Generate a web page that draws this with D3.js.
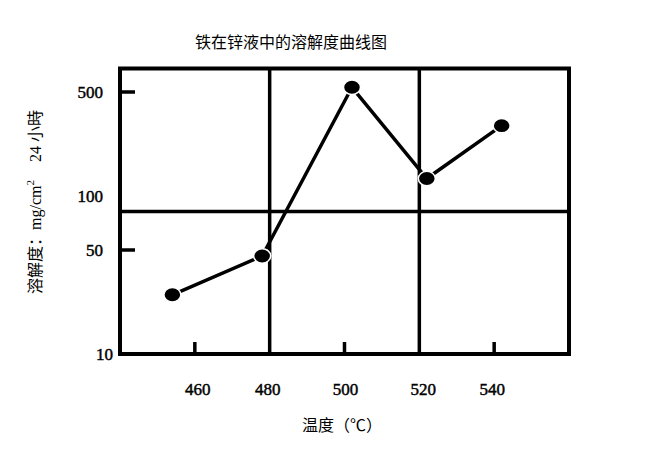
<!DOCTYPE html>
<html><head><meta charset="utf-8">
<script src="https://cdn.jsdelivr.net/npm/d3@7"></script>
<style>body{margin:0;background:#fff}svg{display:block}</style>
</head><body>
<svg id="c" width="653" height="458"></svg>
<script>
// ---- data ----
const temps = [454, 478, 502, 522, 542];
const solubility = [25, 45.6, 538, 131, 297];
const xTickValues = [460, 480, 500, 520, 540];
const xTickMarks = [460, 500, 540];
const xGridValues = [480, 520];
const yTickValues = [10, 50, 100, 500];
const yTickMarks = [50, 500];
const yGridValues = [82];
const title = "铁在锌液中的溶解度曲线图";
const xTitle = "温度（℃）";

// ---- layout ----
const W = 653, H = 458;
const L = 120, R = 569, T = 68.5, B = 354;
const svg = d3.select("#c");
svg.append("rect").attr("width", W).attr("height", H).attr("fill", "#fff");

const x = d3.scaleLinear().domain([440, 560]).range([L, R]);
const y = d3.scaleLog().domain([10, 50, 100, 500]).range([B, 250, 196, 92]);

const serif = "'Liberation Serif','Noto Sans CJK SC',serif";

// title
svg.append("text").attr("x", 291).attr("y", 48).attr("text-anchor", "middle")
  .attr("font-family", "'Noto Sans CJK SC'").attr("font-size", 16).attr("fill", "#000")
  .text(title);

// gridlines
const g = svg.append("g");
g.selectAll("line.vg").data(xGridValues).join("line")
  .attr("x1", d => x(d)).attr("x2", d => x(d)).attr("y1", T).attr("y2", B)
  .attr("stroke", "#000").attr("stroke-width", 3.5);
g.selectAll("line.hg").data(yGridValues).join("line")
  .attr("x1", L).attr("x2", R).attr("y1", d => y(d)).attr("y2", d => y(d))
  .attr("stroke", "#000").attr("stroke-width", 3.5);

// tick marks (inward)
g.selectAll("line.xt").data(xTickMarks).join("line")
  .attr("x1", d => x(d)).attr("x2", d => x(d)).attr("y1", B).attr("y2", B - 12)
  .attr("stroke", "#000").attr("stroke-width", 3.5);
g.selectAll("line.yt").data(yTickMarks).join("line")
  .attr("x1", L).attr("x2", L + 15).attr("y1", d => y(d)).attr("y2", d => y(d))
  .attr("stroke", "#000").attr("stroke-width", 3.5);

// frame
svg.append("rect").attr("x", L).attr("y", T).attr("width", R - L).attr("height", B - T)
  .attr("fill", "none").attr("stroke", "#000").attr("stroke-width", 4);

// axes labels via d3 axes
const xAxis = svg.append("g").attr("transform", `translate(0,${B})`)
  .call(d3.axisBottom(x).tickValues(xTickValues).tickSize(0).tickPadding(29).tickFormat(d3.format("d")));
xAxis.select(".domain").remove();
xAxis.selectAll("text").attr("font-family", serif).attr("font-size", 17).attr("fill", "#000")
  .attr("stroke", "#000").attr("stroke-width", 0.45);
xAxis.selectAll(".tick").attr("transform", d => `translate(${x(d) + (d===460?3:(d===480?-2:(d===520?4:(d===540?-2:1))))},0)`);

const yAxis = svg.append("g").attr("transform", `translate(${L},0)`)
  .call(d3.axisLeft(y).tickValues(yTickValues).tickSize(0).tickPadding(17).tickFormat(d3.format("d")));
yAxis.select(".domain").remove();
yAxis.selectAll("text").attr("font-family", serif).attr("font-size", 17).attr("fill", "#000")
  .attr("stroke", "#000").attr("stroke-width", 0.45)
  .attr("x", d => d === 10 ? -7 : -17);

// x title
svg.append("text").attr("x", 342).attr("y", 431).attr("text-anchor", "middle")
  .attr("font-family", serif).attr("font-size", 16).attr("fill", "#000").text(xTitle);

// y title
const yt = svg.append("text").attr("transform", "translate(41,202) rotate(-90)")
  .attr("text-anchor", "middle").attr("font-family", serif).attr("font-size", 16).attr("fill", "#000");
yt.append("tspan").text("溶解度：mg/cm");
yt.append("tspan").attr("font-size", 11).attr("dy", -7).text("2");
yt.append("tspan").attr("dy", 7).attr("dx", 18).text("24 小時");

// data line
const pts = temps.map((t, i) => [t, solubility[i]]);
svg.append("path").datum(pts)
  .attr("d", d3.line().x(d => x(d[0])).y(d => y(d[1])))
  .attr("fill", "none").attr("stroke", "#000").attr("stroke-width", 3.5);
svg.selectAll("ellipse.pt").data(pts).join("ellipse")
  .attr("cx", d => x(d[0])).attr("cy", d => y(d[1]))
  .attr("rx", 8.5).attr("ry", 7.2).attr("fill", "#000")
  .attr("stroke", "#fff").attr("stroke-width", 1.5);
</script>
</body></html>
